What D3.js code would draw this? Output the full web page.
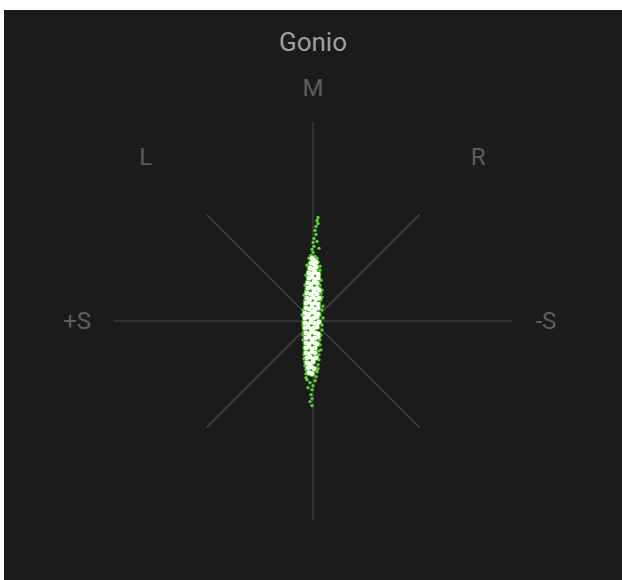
<!DOCTYPE html>
<html><head><meta charset="utf-8">
<script src="https://cdn.jsdelivr.net/npm/d3@7"></script>
<style>html,body{margin:0;padding:0;background:#fff;}svg{display:block;}</style>
</head><body>
<svg id="chart" width="622" height="580"></svg>
<script>
// ---- data ----
const title = "Gonio";
const axisExtent = 200;      // M / S axis half-length (units)
const diagExtent = 107;      // L / R diagonal half-length per coordinate (units)
const axisLabels = [
  {text: "M",  s: 0,    m: 234},
  {text: "L",  s: -168, m: 165},
  {text: "R",  s: 166,  m: 165},
  {text: "+S", s: -237, m: 0},
  {text: "-S", s: 234,  m: 0}
];
// sparse (green) samples: [side, mid]
const sparseSamples = [
  [5,104],[4,101],[5,98],[3,95],[2,91],[3,87],[1,83],[0,79],[1,75],[-1,72],[0,69],[-2,66],[2,65],
  [-6,56],[-7,46],[-8,36],[-9,26],[-8,21],[-10,11],[-9,3],[-10,-4],[-9,-11],[-10,-19],[-9,-27],[-9,-34],[-8,-41],[-7,-49],[-7,-57],
  [5,59],[7,51],[8,41],[9,31],[8,21],[9,11],[10,3],[9,-4],[8,-14],[7,-24],[6,-34],[5,-44],[4,-51],
  [-6,-59],[-3,-62],[0,-65],[-5,-67],[-1,-69],[-2,-74],[-1,-78],[-3,-81],[-1,-85],
  [6,73],[4,63],[-4,63],[9,24],[7,6],[-8,16],[-10,-1],[6,-30],[-8,-45],[3,-56],[7,36],[-7,31],
  [-5,50],[6,45],[-6,40],[8,28],[-9,8],[9,-9],[-10,-14],[7,-19],[-9,-38],[6,-39],[-7,-53],[2,-60],
  [4,80],[-1,60],[7,55],[10,15],[-11,6],[8,-29],[-8,-30],[5,-48]
];
// dense (white) samples: [side, mid]
const denseSamples = [
  [-1,63],[1,61],
  [-2,58],[1,57],[3,59],
  [-3,53],[0,52],[3,54],
  [-4,48],[-1,47],[2,49],[5,47],
  [-4,43],[-1,44],[2,42],[5,43],
  [-5,38],[-2,37],[1,39],[4,38],
  [-5,33],[-2,34],[1,32],[4,33],[6,31],
  [-6,28],[-2,27],[1,29],[4,27],
  [-6,23],[-3,22],[0,24],[3,22],[6,23],
  [-7,18],[-4,19],[-1,17],[2,18],[5,17],
  [-7,13],[-4,12],[-1,14],[2,12],[5,13],
  [-8,8],[-4,7],[-1,9],[2,8],[5,7],
  [-8,3],[-5,4],[-2,2],[1,3],[4,4],
  [-8,-2],[-5,-3],[-2,-1],[1,-2],[4,-3],[6,-1],
  [-8,-7],[-5,-6],[-2,-8],[1,-7],[4,-6],
  [-7,-12],[-4,-13],[-1,-11],[2,-12],[5,-13],
  [-7,-17],[-4,-16],[-1,-18],[2,-17],[5,-16],
  [-7,-22],[-4,-23],[-1,-21],[2,-22],[4,-23],
  [-7,-27],[-4,-26],[-1,-28],[2,-27],
  [-7,-32],[-4,-33],[-1,-31],[2,-32],
  [-6,-37],[-3,-36],[0,-38],[3,-37],
  [-6,-42],[-3,-43],[0,-41],
  [-5,-47],[-2,-46],[1,-48],
  [-4,-52],[-1,-53]
];

// ---- layout ----
const svg = d3.select("#chart");
svg.append("rect").attr("x",4).attr("y",10).attr("width",618).attr("height",570).attr("fill","#1b1b1b");

const cx = 313, cy = 321, R = 199;
const x = d3.scaleLinear().domain([-axisExtent, axisExtent]).range([cx - R, cx + R]);
const y = d3.scaleLinear().domain([-axisExtent, axisExtent]).range([cy + R, cy - R]);

const lines = [
  [[0,-axisExtent],[0,axisExtent]],
  [[-axisExtent,0],[axisExtent,0]],
  [[-diagExtent,diagExtent],[diagExtent,-diagExtent]],
  [[-diagExtent,-diagExtent],[diagExtent,diagExtent]]
];
svg.append("g").selectAll("line").data(lines).join("line")
  .attr("x1", d=>x(d[0][0])).attr("y1", d=>y(d[0][1]))
  .attr("x2", d=>x(d[1][0])).attr("y2", d=>y(d[1][1]))
  .attr("stroke", (d,i)=> i<2 ? "#4a4a4a" : "#444")
  .attr("stroke-width", (d,i)=> i<2 ? 1 : 1.5);

svg.append("text").text(title)
  .attr("x", cx).attr("y", 42)
  .attr("text-anchor","middle").attr("dominant-baseline","central")
  .attr("font-family","Roboto, 'Helvetica Neue', Arial, sans-serif")
  .attr("font-size", 26).attr("fill","#a0a0a0");

svg.append("g").selectAll("text").data(axisLabels).join("text")
  .text(d=>d.text)
  .attr("x", d=>x(d.s)).attr("y", d=>y(d.m))
  .attr("text-anchor","middle").attr("dominant-baseline","central")
  .attr("font-family","Roboto, 'Helvetica Neue', Arial, sans-serif")
  .attr("font-size", 24).attr("fill","#5e5e5e");

const pts = svg.append("g");
pts.selectAll("circle.halo").data(denseSamples).join("circle").attr("class","halo")
  .attr("cx", d=>x(d[0])).attr("cy", d=>y(d[1])).attr("r", 3.3).attr("fill","#46a82a");
pts.selectAll("circle.sparse").data(sparseSamples).join("circle").attr("class","sparse")
  .attr("cx", d=>x(d[0])).attr("cy", d=>y(d[1])).attr("r", 1.7).attr("fill","#5ccd38");
pts.selectAll("circle.dense").data(denseSamples).join("circle").attr("class","dense")
  .attr("cx", d=>x(d[0])).attr("cy", d=>y(d[1])).attr("r", 2.4).attr("fill","#f6fff2");
</script>
</body></html>
